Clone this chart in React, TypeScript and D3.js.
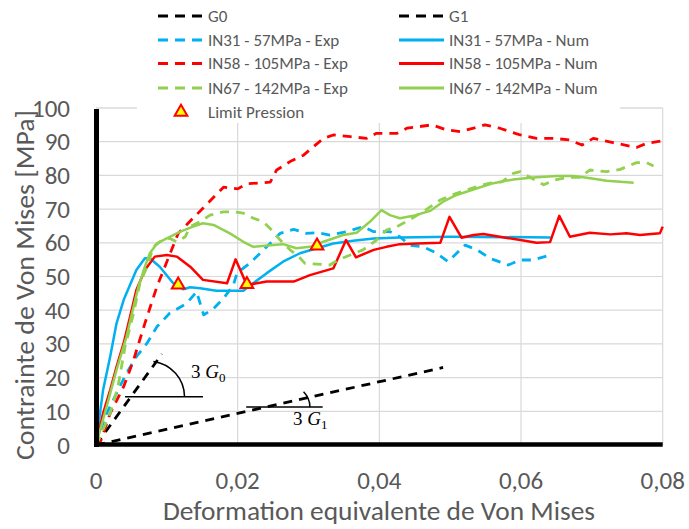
import React from 'react';
import * as d3 from 'd3';

type P = [number, number];

const xTicks = [0, 0.02, 0.04, 0.06, 0.08];
const xTickLabels = ['0', '0,02', '0,04', '0,06', '0,08'];
const yTicks = [0, 10, 20, 30, 40, 50, 60, 70, 80, 90, 100];

const g0: P[] = [[0, 0], [0.0093, 27]];
const g1: P[] = [[0, 0], [0.049, 23]];

const in31Exp: P[] = [[0,0],[0.0003,2.5],[0.0015,9.4],[0.0029,15.3],[0.0043,21.3],[0.0057,26.2],[0.0072,30.2],[0.0086,35.1],[0.0104,39.1],[0.0128,42],[0.0142,45.5],[0.0147,42],[0.0152,38.6],[0.0166,40.5],[0.018,43.5],[0.0194,47.5],[0.0199,51],[0.0217,53.9],[0.0241,58.8],[0.026,62.8],[0.0279,64],[0.0297,62.8],[0.0312,63],[0.033,62.3],[0.0354,63.3],[0.0377,64.8],[0.0392,63.3],[0.0415,63.3],[0.0429,61.8],[0.0443,59.3],[0.0462,58.8],[0.0481,56.9],[0.0497,54.4],[0.0521,59.3],[0.0538,57.9],[0.0556,55.4],[0.0582,53.4],[0.0599,54.9],[0.0617,54.9],[0.0641,56.4]];

const in31Num: P[] = [[0,0],[0.0006,10],[0.001,16.3],[0.002,26.2],[0.0029,36.1],[0.0039,43],[0.0046,46.5],[0.0057,51.9],[0.0069,55.4],[0.0076,55.4],[0.009,52.9],[0.0109,48],[0.0123,46.2],[0.0133,46.8],[0.0147,46.5],[0.017,45.8],[0.0208,45.8],[0.0222,48],[0.0241,51],[0.0264,54.4],[0.0288,56.9],[0.0307,58.1],[0.0335,59.8],[0.0363,60.6],[0.0392,61.3],[0.0429,61.6],[0.05,61.8],[0.0642,61.6]];

const in58Exp: P[] = [[0,0],[0.00056,0.5],[0.002,9.4],[0.0039,17.3],[0.0053,25.2],[0.0069,36.1],[0.0086,47],[0.0116,62.8],[0.018,76.5],[0.02,76],[0.0213,77.5],[0.0246,78],[0.0255,81.6],[0.0274,84.1],[0.0293,86],[0.0321,91],[0.0335,92],[0.0359,91.5],[0.0382,91],[0.0396,92.5],[0.0425,92.5],[0.0439,94],[0.0457,94.5],[0.0474,95],[0.0495,93.5],[0.0514,93],[0.0533,94],[0.0549,95],[0.057,94],[0.0599,92],[0.0622,91],[0.0646,91],[0.0669,90.5],[0.0686,89],[0.0702,91],[0.073,89.7],[0.0763,88.3],[0.0777,89.5],[0.08,90.3]];

const in58Num: P[] = [[0,0],[0.001,9.4],[0.002,16.3],[0.0029,23.2],[0.0039,30.2],[0.0048,38],[0.0057,46],[0.0069,51.9],[0.0083,55.9],[0.01,56.4],[0.0114,55.9],[0.0133,52.9],[0.0151,49],[0.0185,48],[0.0197,55.1],[0.0213,47.5],[0.0241,48.5],[0.0279,48.5],[0.0302,50.4],[0.0335,52.4],[0.0353,60.8],[0.0367,55.7],[0.0392,57.9],[0.041,58.8],[0.0429,59.6],[0.0453,59.8],[0.0486,60],[0.0499,67.7],[0.0516,61.5],[0.0533,62.3],[0.0547,62.6],[0.057,61.8],[0.0599,60.8],[0.0622,60],[0.0641,60.2],[0.0654,68],[0.0669,61.8],[0.0697,63],[0.0726,62.5],[0.0749,62.8],[0.0768,62.3],[0.0796,62.8],[0.08,64.8]];

const in67Exp: P[] = [[0,0],[0.0006,2.5],[0.002,9.4],[0.0031,17.3],[0.0041,29.2],[0.0053,39.1],[0.0062,48],[0.0072,52.9],[0.0081,58.8],[0.009,60.3],[0.0104,61.3],[0.0114,60.3],[0.0126,61.8],[0.0133,64.8],[0.0147,66.3],[0.0161,68.2],[0.018,69.2],[0.0194,69.2],[0.0208,68.8],[0.0222,67.3],[0.0236,66.3],[0.0248,63.8],[0.026,60.8],[0.0274,57.9],[0.0286,55.9],[0.0295,53.9],[0.0312,53.7],[0.033,53.4],[0.0342,54.9],[0.0359,56.4],[0.0377,57.9],[0.0396,60.8],[0.041,63.8],[0.0425,64.8],[0.0448,67.5],[0.0467,70],[0.0486,72.7],[0.0509,74.7],[0.0538,76.7],[0.0556,77.7],[0.0573,78.1],[0.0589,80.6],[0.0599,81.1],[0.0613,79.4],[0.0632,77.2],[0.0646,78.6],[0.0665,79.4],[0.0683,79.4],[0.0697,81.6],[0.0721,81.1],[0.074,81.8],[0.0763,83.8],[0.0777,83.8],[0.0787,82.8]];

const in67Num: P[] = [[0,0],[0.0015,11.4],[0.0029,22.3],[0.0043,32.1],[0.0053,41],[0.006,47],[0.0069,52.9],[0.0076,56.9],[0.0086,59.8],[0.01,61.3],[0.0119,63.3],[0.0137,64.8],[0.0151,65.8],[0.0166,65.3],[0.0189,62.8],[0.0208,60.3],[0.0222,58.8],[0.0246,59.3],[0.0264,59.6],[0.0283,58.4],[0.0302,58.8],[0.0321,60.3],[0.0349,62.3],[0.0368,63],[0.0387,66.3],[0.0403,69.7],[0.0415,68.2],[0.0429,67.3],[0.0448,68],[0.0472,69.5],[0.049,72.2],[0.0509,74.2],[0.0538,76.2],[0.0561,77.7],[0.0589,78.8],[0.0617,79.4],[0.065,79.8],[0.0674,79.8],[0.0693,79.3],[0.0721,78.4],[0.074,78.1],[0.0759,77.8]];

const limitX = [0.0116, 0.0213, 0.0312];
const limitY = [47.5, 47.7, 59.1];

const BLUE = '#00b0f0';
const RED = '#ff0000';
const GREEN = '#92d050';
const BLACK = '#000000';
const GRAY = '#595959';
const FONT = "Carlito, Calibri, Lato, 'Open Sans', sans-serif";
const SERIF = "'Liberation Serif', 'DejaVu Serif', serif";

interface Series { name: string; data: P[]; color: string; dashed: boolean }

const series: Series[] = [
  { name: 'G0', data: g0, color: BLACK, dashed: true },
  { name: 'G1', data: g1, color: BLACK, dashed: true },
  { name: 'IN31 - 57MPa - Exp', data: in31Exp, color: BLUE, dashed: true },
  { name: 'IN31 - 57MPa - Num', data: in31Num, color: BLUE, dashed: false },
  { name: 'IN58 - 105MPa - Exp', data: in58Exp, color: RED, dashed: true },
  { name: 'IN58 - 105MPa - Num', data: in58Num, color: RED, dashed: false },
  { name: 'IN67 - 142MPa - Exp', data: in67Exp, color: GREEN, dashed: true },
  { name: 'IN67 - 142MPa - Num', data: in67Num, color: GREEN, dashed: false },
];

export default function App() {
  const W = 689, H = 529;
  const x = d3.scaleLinear().domain([0, 0.08]).range([96, 662.7]);
  const y = d3.scaleLinear().domain([0, 100]).range([445, 108]);
  const line = d3.line<P>().x(d => x(d[0])).y(d => y(d[1]));
  const tri = d3.symbol().type(d3.symbolTriangle).size(70)();

  const a0y = 14.3, a0x1 = 0.0041, a0x2 = 0.0151;
  const a1y = 11.3, a1x1 = 0.0212, a1x2 = 0.032;

  const legendRows = [16, 40, 63.5, 88];
  const col1 = { s: 158, e: 202, t: 208 };
  const col2 = { s: 399, e: 444, t: 449 };

  return (
    <svg width={W} height={H} style={{ position: 'absolute', left: 0, top: 0, background: '#fff' }}>
      <rect x={0} y={0} width={W} height={H} fill="#fff" />
      {yTicks.slice(1).map(t => (
        <line key={'gy' + t} x1={x(0)} x2={x(0.08)} y1={y(t)} y2={y(t)} stroke="#d9d9d9" strokeWidth={1.2} />
      ))}
      {xTicks.slice(1).map(t => (
        <line key={'gx' + t} x1={x(t)} x2={x(t)} y1={y(100)} y2={y(0)} stroke="#d9d9d9" strokeWidth={1.2} />
      ))}
      {/* annotations */}
      <line x1={x(a0x1)} x2={x(a0x2)} y1={y(a0y)} y2={y(a0y)} stroke="#000" strokeWidth={1.5} />
      <path d={`M${x(0.0125)},${y(a0y)} A36,36 0 0 0 ${x(0.0081)},${y(24.8)}`} fill="none" stroke="#000" strokeWidth={1.5} />
      <text x={191} y={378} fontFamily={SERIF} fontSize={19} fill="#000">
        3 <tspan fontStyle="italic">G</tspan><tspan fontSize={13} dy={4}>0</tspan>
      </text>
      <line x1={x(a1x1)} x2={x(a1x2)} y1={y(a1y)} y2={y(a1y)} stroke="#000" strokeWidth={1.5} />
      <path d={`M${x(0.0302)},${y(a1y)} A22,22 0 0 0 ${x(0.0293)},${y(15.8)}`} fill="none" stroke="#000" strokeWidth={1.5} />
      <text x={293} y={425} fontFamily={SERIF} fontSize={19} fill="#000">
        3 <tspan fontStyle="italic">G</tspan><tspan fontSize={13} dy={4}>1</tspan>
      </text>
      {series.map(s => (
        <path key={s.name} d={line(s.data) || ''} fill="none" stroke={s.color}
          strokeWidth={s.dashed ? 2.8 : 2.5} strokeDasharray={s.dashed ? '9,7' : undefined}
          strokeLinejoin="round" />
      ))}
      {limitX.map((lx, i) => (
        <path key={'lp' + i} d={tri || ''} transform={`translate(${x(lx)},${y(limitY[i])})`}
          fill="#ffff00" stroke="#ff0000" strokeWidth={2} />
      ))}
      <line x1={x(0)} x2={x(0.08)} y1={y(100)} y2={y(100)} stroke="#d9d9d9" strokeWidth={1.2} />
      <line x1={x(0) + 0.5} x2={x(0) + 0.5} y1={y(100) + 1} y2={y(0) + 2} stroke="#000" strokeWidth={5} />
      <line x1={x(0) - 2} x2={x(0.08)} y1={y(0) - 0.5} y2={y(0) - 0.5} stroke="#000" strokeWidth={4.5} />
      {yTicks.map(t => (
        <text key={'yl' + t} x={70} y={y(t)} textAnchor="end" dominantBaseline="central"
          fontFamily={FONT} fontSize={25} fill={GRAY}>{t}</text>
      ))}
      {xTicks.map((t, i) => (
        <text key={'xl' + t} x={x(t)} y={489} textAnchor="middle"
          fontFamily={FONT} fontSize={25} fill={GRAY}>{xTickLabels[i]}</text>
      ))}
      <text x={379} y={520} textAnchor="middle" fontFamily={FONT} fontSize={26.5} fill={GRAY}
        textLength={432} lengthAdjust="spacingAndGlyphs">Deformation equivalente de Von Mises</text>
      <text transform="translate(34,285) rotate(-90)" textAnchor="middle" fontFamily={FONT} fontSize={26.5} fill={GRAY}
        textLength={350} lengthAdjust="spacingAndGlyphs">Contrainte de Von Mises  [MPa]</text>
      <rect x={137} y={0} width={483} height={123} fill="#fff" />
      {series.map((s, i) => {
        const col = i % 2 === 0 ? col1 : col2;
        const ry = legendRows[Math.floor(i / 2)];
        return (
          <g key={'lg' + s.name}>
            <line x1={col.s} x2={col.e} y1={ry} y2={ry} stroke={s.color} strokeWidth={3}
              strokeDasharray={s.dashed ? '10,7' : undefined} />
            <text x={col.t} y={ry} dominantBaseline="central" fontFamily={FONT} fontSize={17} fill={GRAY}>{s.name}</text>
          </g>
        );
      })}
      <path d={tri || ''} transform={`translate(181,112)`} fill="#ffff00" stroke="#ff0000" strokeWidth={2} />
      <text x={col1.t} y={112} dominantBaseline="central" fontFamily={FONT} fontSize={17} fill={GRAY}>Limit Pression</text>
    </svg>
  );
}
